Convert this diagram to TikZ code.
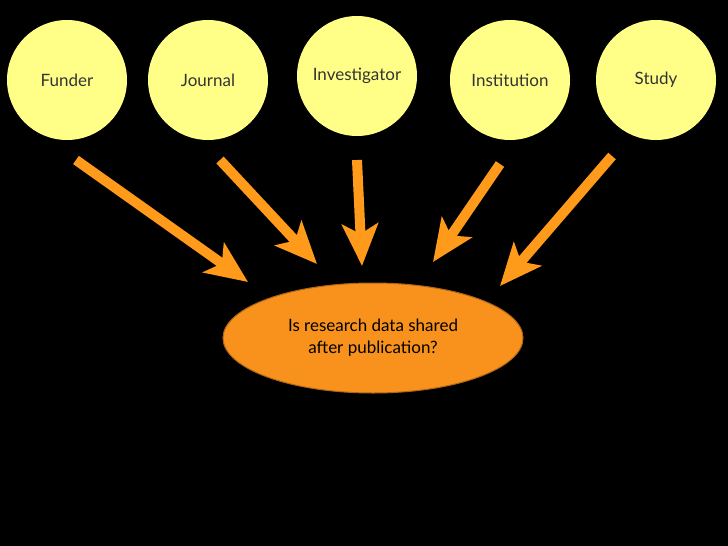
\documentclass[tikz,border=0pt]{standalone}
\usepackage{fontspec}
\setmainfont{Lato}
\usetikzlibrary{arrows.meta,shapes.geometric}
\definecolor{circ}{HTML}{FFFF88}
\definecolor{arr}{HTML}{FF9A1A}
\definecolor{ell}{HTML}{F8921C}
\begin{document}
\begin{tikzpicture}[x=1pt,y=-1pt,
  actor/.style={circle,fill=circ,minimum size=120pt,inner sep=0pt,font=\fontsize{17}{20}\selectfont,text=black!80},
  bigarrow/.style={draw=arr,line width=10pt,-{Stealth[length=42pt,width=36pt,inset=10pt]}}]
\fill[black] (0,0) rectangle (728,546);
\node[actor] (funder) at (67,80) {Funder};
\node[actor] (journal) at (208,80) {Journal};
\node[actor] (inv) at (357,76) {Investigator};
\node[actor] (inst) at (510,80) {Institution};
\node[actor] (study) at (656,80) {Study};
\node[ellipse,fill=ell,draw=ell!70!black,line width=1pt,minimum width=300pt,minimum height=110pt,align=center,font=\fontsize{17}{22}\selectfont] (q) at (373,338) {Is research data shared\\after publication?};
\coordinate (f1) at (76,160); \coordinate (f2) at (248,282);
\coordinate (j1) at (220,160); \coordinate (j2) at (317,264);
\coordinate (i1) at (357,160); \coordinate (i2) at (362,266);
\coordinate (n1) at (500,164); \coordinate (n2) at (433,262);
\coordinate (s1) at (612,156); \coordinate (s2) at (500,286);
\draw[bigarrow] (f1) -- (f2);
\draw[bigarrow] (j1) -- (j2);
\draw[bigarrow] (i1) -- (i2);
\draw[bigarrow] (n1) -- (n2);
\draw[bigarrow] (s1) -- (s2);
\end{tikzpicture}
\end{document}
